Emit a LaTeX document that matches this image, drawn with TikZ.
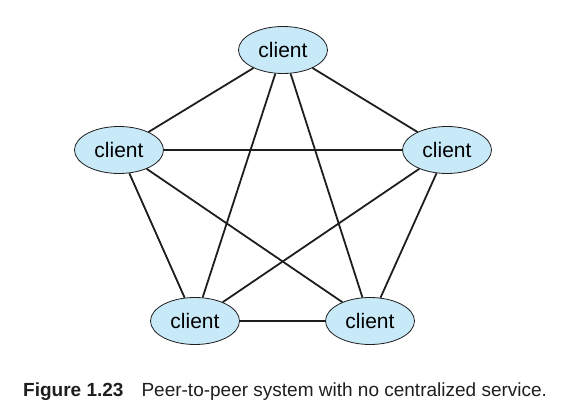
\documentclass[tikz,border=0pt]{standalone}
\usepackage{fontspec}
\setmainfont{Liberation Sans}
\usetikzlibrary{shapes.geometric}
\definecolor{clientfill}{RGB}{200,233,248}
\definecolor{edgecol}{RGB}{30,30,30}
\begin{document}
\begin{tikzpicture}[x=1pt,y=1pt,
  client/.style={ellipse, draw=edgecol, line width=0.8pt, fill=clientfill,
    minimum width=89pt, minimum height=47pt, inner sep=0pt,
    font=\fontsize{21}{24}\selectfont},
  link/.style={draw=edgecol, line width=1.8pt}]
\useasboundingbox (0,0) rectangle (561,414);
\node[client] (t)  at (283,364) {client};
\node[client] (l)  at (119,264) {client};
\node[client] (r)  at (447,264) {client};
\node[client] (bl) at (195,93)  {client};
\node[client] (br) at (370,93)  {client};
\draw[link] (t) -- (l);
\draw[link] (t) -- (r);
\draw[link] (t) -- (bl);
\draw[link] (t) -- (br);
\draw[link] (l) -- (r);
\draw[link] (l) -- (bl);
\draw[link] (l) -- (br);
\draw[link] (r) -- (bl);
\draw[link] (r) -- (br);
\draw[link] (bl) -- (br);
\node[anchor=base west, inner sep=0pt, font=\fontsize{19}{22}\selectfont, text=edgecol] (cap) at (23,17.5)
  {\textbf{Figure 1.23}\hspace{18pt}Peer-to-peer system with no centralized service.};
\end{tikzpicture}
\end{document}
